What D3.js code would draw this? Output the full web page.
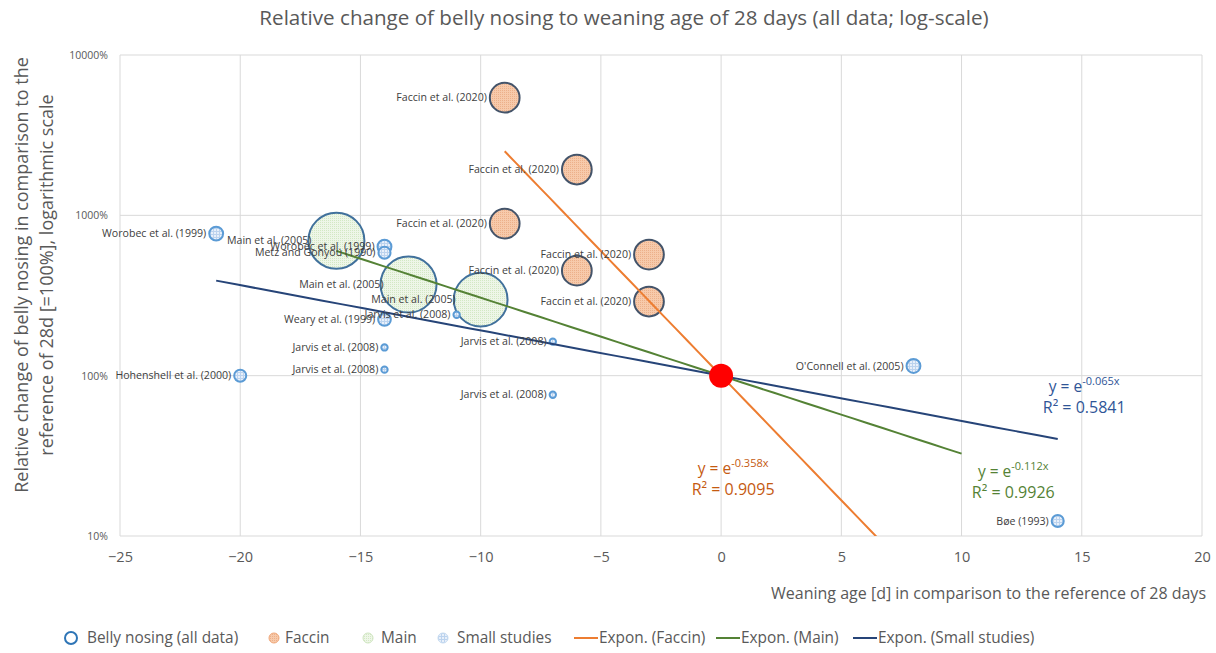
<!DOCTYPE html>
<html>
<head>
<meta charset="utf-8">
<script src="https://cdn.jsdelivr.net/npm/d3@7"></script>
<style>
  body { margin: 0; background: #fff; }
  text { font-family: "Open Sans", Lato, sans-serif; }
</style>
</head>
<body>
<script>
// data (x = weaning age relative to 28 d, y = relative belly nosing, 1 = 100%)
const faccinX = [-9, -6, -9, -3, -6, -3]
const faccinY = [54.2, 19.3, 8.88, 5.69, 4.52, 2.90]
const faccinSize = [220, 220, 220, 220, 220, 220]
const faccinLabels = ['Faccin et al. (2020)', 'Faccin et al. (2020)', 'Faccin et al. (2020)', 'Faccin et al. (2020)', 'Faccin et al. (2020)', 'Faccin et al. (2020)']

const mainX = [-16, -13, -10]
const mainY = [6.95, 3.70, 2.98]
const mainSize = [780, 780, 720]
const mainLabels = ['Main et al. (2005)', 'Main et al. (2005)', 'Main et al. (2005)']

const smallX = [-21, -14, -14, -14, -11, -14, -14, -20, -7, -7, 8, 14]
const smallY = [7.69, 6.38, 5.85, 2.24, 2.40, 1.50, 1.09, 1.00, 1.63, 0.76, 1.15, 0.124]
const smallSize = [48, 48, 36, 40, 10, 10, 10, 36, 10, 10, 48, 36]
const smallLabels = ['Worobec et al. (1999)', 'Worobec et al. (1999)', 'Metz and Gonyou (1990)', 'Weary et al. (1999)',
  'Jarvis et al. (2008)', 'Jarvis et al. (2008)', 'Jarvis et al. (2008)', 'Hohenshell et al. (2000)',
  'Jarvis et al. (2008)', 'Jarvis et al. (2008)', "O'Connell et al. (2005)", 'Bøe (1993)']

// exponential trend lines y = e^(k x), drawn over [from, to]
const trendK = [-0.358, -0.112, -0.065]
const trendR2 = ['0.9095', '0.9926', '0.5841']
const trendFrom = [-9, -16, -21]
const trendTo = [10, 10, 14]

const xTicks = [-25, -20, -15, -10, -5, 0, 5, 10, 15, 20]
const yTicks = [0.1, 1, 10, 100]

const W = 1216, H = 653

const svg = d3.select('body')
  .append('svg')
  .attr('width', W)
  .attr('height', H)

const x = d3.scaleLinear().domain([-25, 20]).range([120, 1202])
const y = d3.scaleLog().domain([0.1, 100]).range([536, 55])
const r = d3.scaleSqrt().domain([0, 780]).range([0, 28])

const defs = svg.append('defs')

function dotPattern(id, bg, dot, size) {
  const p = defs.append('pattern')
    .attr('id', id)
    .attr('patternUnits', 'userSpaceOnUse')
    .attr('width', size).attr('height', size)
  p.append('rect').attr('width', size).attr('height', size).attr('fill', bg)
  p.append('rect').attr('width', 1).attr('height', 1).attr('fill', dot)
}
function gridPattern(id, bg, line) {
  const p = defs.append('pattern')
    .attr('id', id)
    .attr('patternUnits', 'userSpaceOnUse')
    .attr('width', 3).attr('height', 3)
  p.append('rect').attr('width', 3).attr('height', 3).attr('fill', bg)
  p.append('rect').attr('width', 3).attr('height', 1).attr('fill', line)
  p.append('rect').attr('width', 1).attr('height', 3).attr('fill', line)
}
dotPattern('pFaccin', '#f7caab', '#ecb08a', 2)
dotPattern('pMain', '#eef6e8', '#d3e8c4', 2)
gridPattern('pSmall', '#e8f0fa', '#bcd3ee')

defs.append('clipPath').attr('id', 'plotClip')
  .append('rect')
  .attr('x', 120).attr('y', 55)
  .attr('width', 1082).attr('height', 481)

// title
svg.append('text')
  .attr('x', 624).attr('y', 25)
  .attr('text-anchor', 'middle')
  .attr('font-size', 20.6)
  .attr('fill', '#595959')
  .text('Relative change of belly nosing to weaning age of 28 days (all data; log-scale)')

// grid
svg.append('g')
  .selectAll('line')
  .data(yTicks)
  .join('line')
  .attr('x1', 120).attr('x2', 1202)
  .attr('y1', d => y(d)).attr('y2', d => y(d))
  .attr('stroke', '#d9d9d9')

svg.append('g')
  .selectAll('line')
  .data(xTicks)
  .join('line')
  .attr('x1', d => x(d)).attr('x2', d => x(d))
  .attr('y1', 55).attr('y2', 536)
  .attr('stroke', '#d9d9d9')

// axes (labels only, Excel style)
const axisX = d3.axisBottom(x).tickValues(xTicks).tickSize(0).tickPadding(16)
const gx = svg.append('g').attr('transform', 'translate(0,536)').call(axisX)
gx.select('.domain').remove()
gx.selectAll('text').attr('font-size', 14.5).attr('fill', '#595959').attr('font-family', '"Open Sans", sans-serif')

const axisY = d3.axisLeft(y).tickValues(yTicks).tickSize(0).tickPadding(12)
  .tickFormat(d => Math.round(d * 100) + '%')
const gy = svg.append('g').attr('transform', 'translate(120,0)').call(axisY)
gy.select('.domain').remove()
gy.selectAll('text').attr('font-size', 10.5).attr('fill', '#595959').attr('font-family', '"Open Sans", sans-serif')

// axis titles
svg.append('text')
  .attr('x', 1206).attr('y', 599)
  .attr('text-anchor', 'end')
  .attr('font-size', 16)
  .attr('fill', '#595959')
  .text('Weaning age [d] in comparison to the reference of 28 days')

const yTitle = svg.append('text')
  .attr('transform', 'translate(28,275) rotate(-90)')
  .attr('text-anchor', 'middle')
  .attr('font-size', 18)
  .attr('fill', '#595959')
yTitle.append('tspan').attr('x', 0).attr('dy', 0).text('Relative change of belly nosing in comparison to the')
yTitle.append('tspan').attr('x', 0).attr('dy', 25).text('reference of 28d [=100%], logarithmic scale')

// bubbles
function drawSeries(xs, ys, sizes, labels, fill, stroke, sw) {
  const pts = xs.map((d, i) => ({ x: d, y: ys[i], s: sizes[i], label: labels[i] }))
  const g = svg.append('g')
  g.selectAll('circle')
    .data(pts)
    .join('circle')
    .attr('cx', d => x(d.x))
    .attr('cy', d => y(d.y))
    .attr('r', d => r(d.s))
    .attr('fill', fill)
    .attr('stroke', stroke)
    .attr('stroke-width', sw)
  return pts
}

const labelPts = []
labelPts.push(...drawSeries(mainX, mainY, mainSize, mainLabels, 'url(#pMain)', '#41719c', 2))
labelPts.push(...drawSeries(faccinX, faccinY, faccinSize, faccinLabels, 'url(#pFaccin)', '#44546a', 2))
labelPts.push(...drawSeries(smallX, smallY, smallSize, smallLabels, 'url(#pSmall)', '#5b9bd5', 2))

// trend lines
const lineColors = ['#ed7d31', '#548235', '#264478']
const textColors = ['#c55a11', '#548235', '#2f5597']
const line = d3.line().x(d => x(d[0])).y(d => y(d[1]))
const trends = svg.append('g').attr('clip-path', 'url(#plotClip)')
trendK.forEach((k, i) => {
  const pts = d3.range(0, 41).map(j => {
    const t = trendFrom[i] + (trendTo[i] - trendFrom[i]) * j / 40
    return [t, Math.exp(k * t)]
  })
  trends.append('path')
    .attr('d', line(pts))
    .attr('fill', 'none')
    .attr('stroke', lineColors[i])
    .attr('stroke-width', 2)
})

// reference point (28 d = 100%)
svg.append('circle')
  .attr('cx', x(0)).attr('cy', y(1))
  .attr('r', 12)
  .attr('fill', '#ff0000')

// data labels
svg.append('g')
  .selectAll('text')
  .data(labelPts)
  .join('text')
  .attr('x', d => x(d.x) - Math.min(r(d.s), 22) - 3)
  .attr('y', d => y(d.y))
  .attr('dy', '0.35em')
  .attr('text-anchor', 'end')
  .attr('font-size', 10.6)
  .attr('fill', '#404040')
  .text(d => d.label)

// trend equations
const eqX = [0.5, 12.15, 15.1]
const eqY = [0.245, 0.234, 0.795]
trendK.forEach((k, i) => {
  const t = svg.append('text')
    .attr('x', x(eqX[i])).attr('y', y(eqY[i]))
    .attr('text-anchor', 'middle')
    .attr('font-size', 15.5)
    .attr('fill', textColors[i])
  t.append('tspan').text('y = e')
  t.append('tspan').attr('font-size', 11).attr('dy', -7).text(k + 'x')
  svg.append('text')
    .attr('x', x(eqX[i])).attr('y', y(eqY[i]) + 21)
    .attr('text-anchor', 'middle')
    .attr('font-size', 16)
    .attr('fill', textColors[i])
    .text('R² = ' + trendR2[i])
})

// legend
const legendY = 638
const legend = svg.append('g').attr('font-size', 15.4).attr('fill', '#595959')

legend.append('circle').attr('cx', 71).attr('cy', legendY).attr('r', 6)
  .attr('fill', 'none').attr('stroke', '#2e75b6').attr('stroke-width', 2)
legend.append('text').attr('x', 87).attr('y', legendY + 5).text('Belly nosing (all data)')

const markers = [
  { cx: 274, fill: 'url(#pFaccin)', stroke: '#f0a87a', tx: 285, label: 'Faccin' },
  { cx: 368, fill: 'url(#pMain)', stroke: '#cfe5c0', tx: 381, label: 'Main' },
  { cx: 443, fill: 'url(#pSmall)', stroke: '#c5daf0', tx: 457, label: 'Small studies' }
]
markers.forEach(m => {
  legend.append('circle').attr('cx', m.cx).attr('cy', legendY).attr('r', 5)
    .attr('fill', m.fill).attr('stroke', m.stroke)
  legend.append('text').attr('x', m.tx).attr('y', legendY + 5).text(m.label)
})

const legendLines = [
  { x1: 574, tx: 599, label: 'Expon. (Faccin)' },
  { x1: 716, tx: 741, label: 'Expon. (Main)' },
  { x1: 853, tx: 878, label: 'Expon. (Small studies)' }
]
legendLines.forEach((l, i) => {
  legend.append('line')
    .attr('x1', l.x1).attr('x2', l.x1 + 24)
    .attr('y1', legendY).attr('y2', legendY)
    .attr('stroke', lineColors[i]).attr('stroke-width', 2)
  legend.append('text').attr('x', l.tx).attr('y', legendY + 5).text(l.label)
})
</script>
</body>
</html>
